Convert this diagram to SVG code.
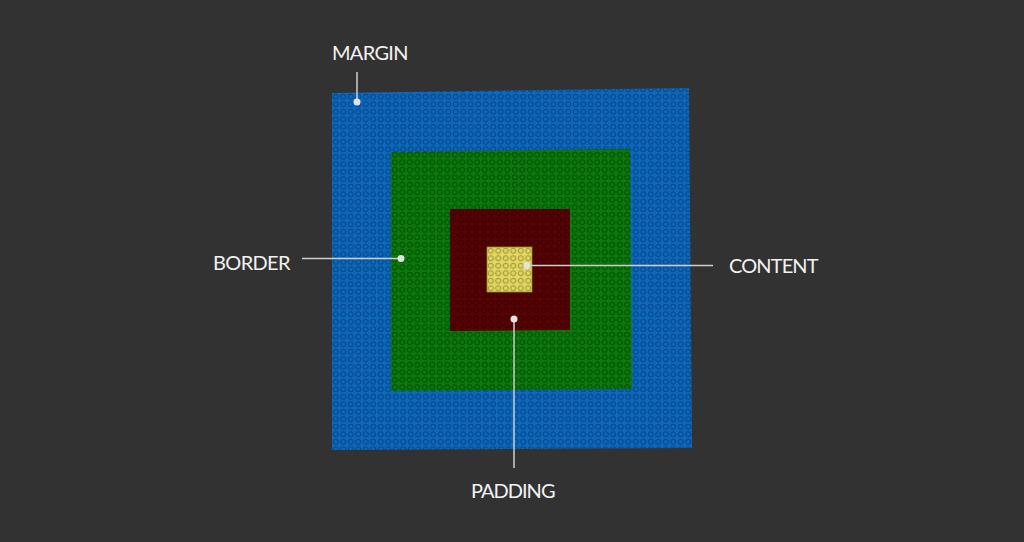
<svg xmlns="http://www.w3.org/2000/svg" width="1024" height="542" viewBox="0 0 1024 542">
<style>
.lbl{font-family:"Lato","Noto Sans","DejaVu Sans",sans-serif;font-weight:400;font-size:20px;fill:#f2f2f2;letter-spacing:0.5px}
.ln{stroke:#cfcfcf;stroke-width:1.5;fill:none}
.dot{fill:#e2e2e2}
</style>
<defs>
<pattern id="pB" width="7.5" height="7.5" patternUnits="userSpaceOnUse" x="332" y="93"><rect width="7.5" height="7.5" fill="#0d68bb"/><circle cx="3.75" cy="3.75" r="2.5" fill="none" stroke="#07488a" stroke-width="1.2"/></pattern>
<pattern id="pG" width="7.5" height="7.5" patternUnits="userSpaceOnUse" x="391" y="151"><rect width="7.5" height="7.5" fill="#0b7a0b"/><circle cx="3.75" cy="3.75" r="2.5" fill="none" stroke="#064f06" stroke-width="1.2"/></pattern>
<pattern id="pR" width="7.5" height="7.5" patternUnits="userSpaceOnUse" x="450" y="209"><rect width="7.5" height="7.5" fill="#580203"/><circle cx="3.75" cy="3.75" r="2.5" fill="none" stroke="#3a0102" stroke-width="1.2"/></pattern>
<pattern id="pY" width="7.5" height="7.5" patternUnits="userSpaceOnUse" x="487" y="247"><rect width="7.5" height="7.5" fill="#e2d964"/><circle cx="3.75" cy="3.75" r="2.5" fill="none" stroke="#a69c3c" stroke-width="1.2"/></pattern>
</defs>
<rect width="1024" height="542" fill="#323232"/>
<g id="margin"><polygon points="332,93 689,88 692,448 332,450" fill="url(#pB)"/></g>
<g id="border"><polygon points="391,152 630,149 632,389 391,391" fill="url(#pG)"/></g>
<g id="padding"><polygon points="450,209 570,209 570,330 450,331" fill="url(#pR)"/></g>
<g id="content"><rect x="487" y="247" width="45" height="45" fill="url(#pY)" stroke="#8a8230" stroke-width="0.8"/></g>
<g id="connectors">
<line class="ln" x1="357" y1="72" x2="357" y2="102"/><circle class="dot" cx="357" cy="102" r="3.5"/>
<line class="ln" x1="302" y1="258.5" x2="401" y2="258.5"/><circle class="dot" cx="401" cy="258.5" r="3.5"/>
<line class="ln" x1="527" y1="265.5" x2="713" y2="265.5"/><circle class="dot" cx="527" cy="265.5" r="3.5"/>
<line class="ln" x1="514" y1="319" x2="514" y2="468"/><circle class="dot" cx="514" cy="319" r="3.5"/>
</g>
<g id="labels">
<text class="lbl" x="332" y="60" textLength="77">MARGIN</text>
<text class="lbl" x="213" y="270" textLength="78">BORDER</text>
<text class="lbl" x="729" y="273" textLength="90">CONTENT</text>
<text class="lbl" x="471" y="498" textLength="85">PADDING</text>
</g>
</svg>
